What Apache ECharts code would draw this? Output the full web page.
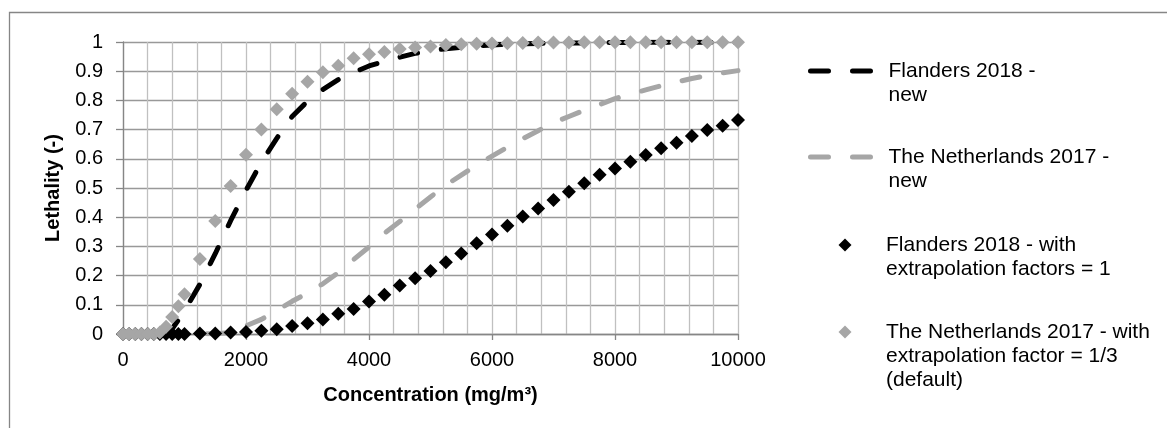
<!DOCTYPE html>
<html>
<head>
<meta charset="utf-8">
<script src="https://cdn.jsdelivr.net/npm/echarts@6/dist/echarts.min.js"></script>
<style>
  html, body { margin: 0; padding: 0; background: #fff; }
  #chart { width: 1167px; height: 428px; }
</style>
</head>
<body>
<div id="chart"></div>
<script>
// concentration points (mg/m3), dense at the start
const conc = [0, 100, 200, 300, 400, 500, 600, 700, 800, 900, 1000,
  1250, 1500, 1750, 2000, 2250, 2500, 2750, 3000, 3250, 3500, 3750, 4000,
  4250, 4500, 4750, 5000, 5250, 5500, 5750, 6000, 6250, 6500, 6750, 7000,
  7250, 7500, 7750, 8000, 8250, 8500, 8750, 9000, 9250, 9500, 9750, 10000];

// Flanders 2018 - new (dashed black)
const flandersNew = [0, 0, 0, 0, 0, 0, 0, 0.004, 0.018, 0.048, 0.08,
  0.17, 0.275, 0.388, 0.492, 0.588, 0.67, 0.745, 0.797, 0.837, 0.871, 0.896, 0.918,
  0.934, 0.948, 0.961, 0.97, 0.977, 0.982, 0.986, 0.99, 0.992, 0.994, 0.995, 0.996,
  0.997, 0.997, 0.998, 0.998, 0.998, 0.999, 0.999, 0.999, 0.999, 0.999, 0.999, 0.999];

// The Netherlands 2017 - new (dashed grey)
const nlNew = [0, 0, 0, 0, 0, 0, 0, 0, 0, 0, 0,
  0, 0.001, 0.005, 0.028, 0.05, 0.08, 0.112, 0.14, 0.172, 0.21, 0.255, 0.298,
  0.345, 0.385, 0.428, 0.469, 0.51, 0.544, 0.578, 0.609, 0.64, 0.669, 0.696, 0.724,
  0.745, 0.766, 0.786, 0.806, 0.822, 0.836, 0.85, 0.863, 0.875, 0.885, 0.894, 0.902];

// Flanders 2018 - with extrapolation factors = 1 (black diamonds)
const flandersEf1 = [0, 0, 0, 0, 0, 0, 0, 0, 0, 0, 0,
  0.002, 0.002, 0.005, 0.007, 0.011, 0.016, 0.027, 0.037, 0.05, 0.069, 0.086, 0.111,
  0.134, 0.166, 0.191, 0.216, 0.246, 0.276, 0.311, 0.341, 0.371, 0.402, 0.43, 0.459,
  0.487, 0.516, 0.545, 0.567, 0.59, 0.613, 0.636, 0.655, 0.678, 0.699, 0.713, 0.733];

// The Netherlands 2017 - with extrapolation factor = 1/3 (grey diamonds)
const nlEf13 = [0, 0, 0, 0, 0, 0, 0.005, 0.025, 0.058, 0.095, 0.136,
  0.257, 0.387, 0.507, 0.614, 0.7, 0.77, 0.823, 0.864, 0.896, 0.919, 0.944, 0.958,
  0.966, 0.976, 0.981, 0.985, 0.99, 0.992, 0.994, 0.995, 0.996, 0.997, 0.998, 0.998,
  0.998, 0.999, 0.999, 0.999, 0.999, 0.999, 0.999, 0.999, 0.999, 0.999, 0.999, 0.999];

const seriesNames = [
  'Flanders 2018 -\nnew',
  'The Netherlands 2017 -\nnew',
  'Flanders 2018 - with\nextrapolation factors = 1',
  'The Netherlands 2017 - with\nextrapolation factor = 1/3\n(default)'
];
const seriesColors = ['#000000', '#a6a6a6', '#000000', '#a6a6a6'];

function pairs(ys) {
  return conc.map((x, i) => [x, ys[i]]);
}

const FONT = "'Liberation Sans', Arial, sans-serif";
const LH = 24;

// one legend per entry; blank lines on top keep the first text line level with the symbol
function legendFor(idx, left, firstLineY, isLine) {
  const name = seriesNames[idx];
  const lines = name.split('\n').length;
  const lg = {
    data: [name],
    left: left,
    top: firstLineY - (2 * lines - 1) * LH / 2,
    padding: 0,
    selectedMode: false,
    itemWidth: isLine ? 65 : 13,
    itemHeight: isLine ? 14 : 13,
    formatter: n => '\n'.repeat(lines - 1) + n,
    textStyle: {
      fontFamily: FONT,
      fontSize: 21,
      color: '#000',
      lineHeight: LH,
      padding: [0, 0, 0, isLine ? 8 : 29.5]
    }
  };
  if (isLine) {
    lg.lineStyle = { width: 5, color: seriesColors[idx] };
    lg.itemStyle = { opacity: 0 };
  } else {
    lg.itemStyle = { color: seriesColors[idx], opacity: 1 };
  }
  return lg;
}

const chart = echarts.init(document.getElementById('chart'), null, { renderer: 'canvas' });

chart.setOption({
  backgroundColor: '#fff',
  animation: false,
  graphic: [{
    type: 'rect',
    shape: { x: 9.5, y: 12.5, width: 1300, height: 600 },
    style: { fill: null, stroke: '#868686', lineWidth: 1.3 },
    silent: true
  }],
  grid: { left: 123, right: 429, top: 42, bottom: 94, containLabel: false },
  legend: [
    legendFor(0, 808, 71, true),
    legendFor(1, 808, 157, true),
    legendFor(2, 838.5, 245, false),
    legendFor(3, 838.5, 332, false)
  ],
  xAxis: {
    type: 'value',
    min: 0,
    max: 10000,
    interval: 2000,
    name: 'Concentration (mg/m³)',
    nameLocation: 'middle',
    nameGap: 51,
    nameTextStyle: { fontFamily: FONT, fontSize: 20, fontWeight: 'bold', color: '#000' },
    axisLine: { show: true, lineStyle: { color: '#868686', width: 1.3 } },
    axisTick: { show: true, length: 6, lineStyle: { color: '#868686', width: 1.3 } },
    axisLabel: { fontFamily: FONT, fontSize: 20, color: '#000', margin: 16, formatter: v => String(v) },
    splitLine: { show: true, lineStyle: { color: '#c0c0c0', width: 1.3 } },
    minorTick: { show: false, splitNumber: 5 },
    minorSplitLine: { show: true, lineStyle: { color: '#c0c0c0', width: 1.3 } }
  },
  yAxis: {
    type: 'value',
    min: 0,
    max: 1,
    interval: 0.1,
    name: 'Lethality (-)',
    nameLocation: 'middle',
    nameGap: 60,
    nameTextStyle: { fontFamily: FONT, fontSize: 20, fontWeight: 'bold', color: '#000' },
    axisLine: { show: true, lineStyle: { color: '#868686', width: 1.3 } },
    axisTick: { show: true, length: 7, lineStyle: { color: '#868686', width: 1.3 } },
    axisLabel: { fontFamily: FONT, fontSize: 20, color: '#000', margin: 20 },
    splitLine: { show: true, lineStyle: { color: '#999999', width: 1.3 } }
  },
  series: [
    {
      name: seriesNames[0],
      type: 'line',
      data: pairs(flandersNew),
      symbol: 'none',
      showSymbol: false,
      color: seriesColors[0],
      lineStyle: { color: seriesColors[0], width: 5, type: [18, 24], cap: 'round' },
      z: 2
    },
    {
      name: seriesNames[1],
      type: 'line',
      data: pairs(nlNew),
      symbol: 'none',
      showSymbol: false,
      color: seriesColors[1],
      lineStyle: { color: seriesColors[1], width: 5, type: [18, 24], cap: 'round' },
      z: 3
    },
    {
      name: seriesNames[2],
      type: 'scatter',
      data: pairs(flandersEf1),
      symbol: 'diamond',
      symbolSize: 14,
      itemStyle: { color: seriesColors[2], opacity: 1 },
      z: 4
    },
    {
      name: seriesNames[3],
      type: 'scatter',
      data: pairs(nlEf13),
      symbol: 'diamond',
      symbolSize: 14,
      itemStyle: { color: seriesColors[3], opacity: 1 },
      z: 5
    }
  ]
});
</script>
</body>
</html>
